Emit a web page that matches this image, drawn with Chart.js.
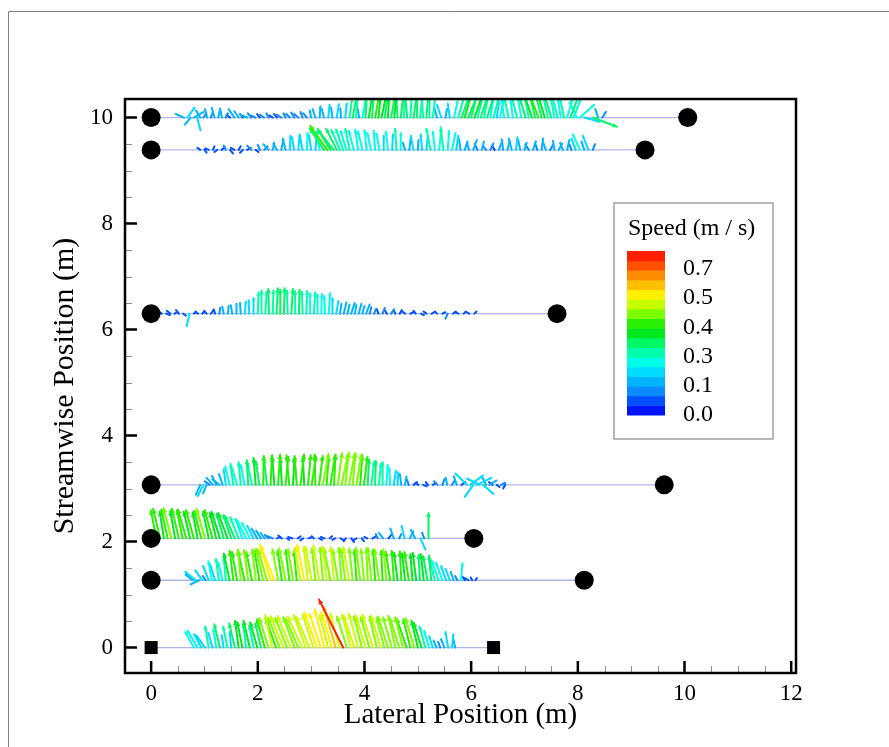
<!DOCTYPE html>
<html>
<head>
<title>Velocity vectors along transects</title>
<script src="https://cdn.jsdelivr.net/npm/chart.js"></script>
<style>
  body { margin: 0; background: #fff; }
</style>
</head>
<body>
<canvas id="chart" width="889" height="747"></canvas>
<script>
// transects: streamwise position and the lateral end of each line
const transectY   = [0, 1.27, 2.06, 3.07, 6.30, 9.39, 10.0];
const transectEnd = [6.42, 8.12, 6.05, 9.62, 7.61, 9.26, 10.06];
const xTicks = [0, 2, 4, 6, 8, 10, 12];
const yTicks = [0, 2, 4, 6, 8, 10];

// colour bar
const speedLevels = [0.0, 0.1, 0.3, 0.4, 0.5, 0.7];
const speedLabels = ['0.0', '0.1', '0.3', '0.4', '0.5', '0.7'];
const bandColors = ['#0014ff', '#0050ff', '#0a8cff', '#00b4ff', '#00dcff', '#00ffe6',
  '#00ffaa', '#00f864', '#00e81e', '#28f000', '#7cff00', '#c8ff00',
  '#fff000', '#ffc000', '#ff8c00', '#ff5000', '#ff1e00'];

// vectors per transect: [lateral position (m), u (m/s), v (m/s)]
const vec0 = [[0.80,-0.12,0.22],[0.87,-0.14,0.24],[0.94,-0.10,0.19],[1.01,-0.12,0.17],[1.08,-0.05,0.30],
  [1.15,-0.06,0.21],[1.22,-0.04,0.26],[1.29,-0.08,0.33],[1.36,-0.03,0.18],[1.43,-0.06,0.30],[1.50,-0.02,0.22],
  [1.57,-0.08,0.34],[1.64,-0.05,0.38],[1.71,-0.07,0.36],[1.78,-0.04,0.33],[1.85,-0.09,0.38],[1.92,-0.06,0.31],
  [1.99,-0.10,0.36],[2.06,-0.08,0.34],[2.13,-0.11,0.40],[2.20,-0.13,0.42],[2.27,-0.10,0.46],[2.34,-0.14,0.40],
  [2.41,-0.16,0.42],[2.48,-0.18,0.44],[2.55,-0.17,0.42],[2.62,-0.19,0.45],[2.69,-0.16,0.43],[2.76,-0.18,0.41],
  [2.83,-0.20,0.44],[2.90,-0.17,0.46],[2.97,-0.19,0.44],[3.04,-0.15,0.47],[3.11,-0.18,0.50],[3.18,-0.16,0.48],
  [3.25,-0.14,0.54],[3.32,-0.12,0.46],[3.39,-0.15,0.50],[3.46,-0.17,0.58],[3.53,-0.13,0.48],[3.60,-0.34,0.68],
  [3.67,-0.14,0.44],[3.74,-0.12,0.47],[3.81,-0.15,0.45],[3.88,-0.13,0.48],[3.95,-0.11,0.44],[4.02,-0.14,0.46],
  [4.09,-0.12,0.43],[4.16,-0.15,0.47],[4.23,-0.10,0.44],[4.30,-0.13,0.45],[4.37,-0.11,0.42],[4.44,-0.14,0.44],
  [4.51,-0.12,0.43],[4.58,-0.10,0.45],[4.65,-0.13,0.42],[4.72,-0.11,0.43],[4.79,-0.14,0.41],[4.86,-0.10,0.40],
  [4.93,-0.12,0.42],[5.00,-0.09,0.38],[5.07,-0.11,0.35],[5.14,-0.08,0.30],[5.21,-0.07,0.24],[5.28,-0.05,0.16],
  [5.35,-0.04,0.10],[5.42,-0.03,0.08],[5.50,-0.05,0.12],[5.57,-0.04,0.22],[5.64,0.02,0.19],[5.70,-0.03,0.14]];

const vec1 = [[0.78,-0.10,0.08],[0.84,-0.15,0.12],[0.90,-0.12,-0.06],[0.96,-0.10,0.14],[1.02,-0.04,0.06],
  [1.08,-0.08,0.20],[1.14,-0.05,0.27],[1.20,-0.07,0.22],[1.27,-0.04,0.30],[1.34,-0.06,0.25],[1.40,-0.03,0.33],
  [1.47,-0.08,0.38],[1.54,-0.05,0.42],[1.61,-0.07,0.40],[1.68,-0.04,0.44],[1.75,-0.09,0.41],[1.82,-0.06,0.43],
  [1.89,-0.08,0.40],[1.96,-0.05,0.44],[2.03,-0.07,0.42],[2.10,-0.10,0.45],[2.17,-0.12,0.43],[2.24,-0.14,0.48],
  [2.31,-0.20,0.50],[2.38,-0.08,0.44],[2.45,-0.06,0.42],[2.52,-0.09,0.45],[2.59,-0.05,0.43],[2.66,-0.07,0.44],
  [2.73,-0.04,0.41],[2.80,-0.08,0.46],[2.87,-0.10,0.50],[2.94,-0.06,0.47],[3.01,-0.09,0.48],[3.08,-0.05,0.45],
  [3.15,-0.08,0.49],[3.22,-0.04,0.46],[3.29,-0.06,0.48],[3.36,-0.09,0.45],[3.43,-0.05,0.47],[3.50,-0.07,0.43],
  [3.57,-0.04,0.46],[3.64,-0.06,0.44],[3.71,-0.08,0.47],[3.78,-0.05,0.45],[3.85,-0.03,0.43],[3.92,-0.06,0.46],
  [3.99,-0.04,0.44],[4.06,-0.02,0.45],[4.13,-0.05,0.46],[4.20,-0.03,0.43],[4.27,-0.06,0.44],[4.34,-0.02,0.42],
  [4.41,-0.04,0.44],[4.48,-0.06,0.40],[4.55,-0.03,0.42],[4.62,-0.05,0.39],[4.69,-0.02,0.41],[4.76,-0.04,0.38],
  [4.83,-0.06,0.40],[4.90,-0.03,0.37],[4.97,-0.05,0.39],[5.04,-0.02,0.36],[5.11,-0.04,0.37],[5.18,-0.06,0.34],
  [5.25,-0.03,0.35],[5.32,-0.08,0.30],[5.39,-0.10,0.28],[5.46,-0.09,0.25],[5.53,-0.07,0.20],[5.60,-0.06,0.16],
  [5.67,-0.04,0.12],[5.74,-0.03,0.06],[5.81,0.02,0.24],[5.88,-0.03,0.05],[5.95,-0.05,0.03],[6.02,-0.02,0.04],
  [6.08,0.02,0.03]];

const vec2 = [[0.10,-0.08,0.40],[0.17,-0.10,0.42],[0.24,-0.06,0.38],[0.31,-0.09,0.41],[0.38,-0.11,0.43],
  [0.45,-0.07,0.39],[0.52,-0.10,0.42],[0.59,-0.08,0.40],[0.66,-0.12,0.41],[0.73,-0.09,0.38],[0.80,-0.11,0.40],
  [0.87,-0.07,0.37],[0.94,-0.10,0.39],[1.01,-0.12,0.42],[1.08,-0.08,0.38],[1.15,-0.11,0.40],[1.22,-0.09,0.36],
  [1.29,-0.12,0.38],[1.36,-0.10,0.35],[1.43,-0.13,0.36],[1.50,-0.11,0.33],[1.57,-0.14,0.32],[1.64,-0.12,0.30],
  [1.71,-0.10,0.28],[1.78,-0.13,0.26],[1.85,-0.11,0.22],[1.92,-0.09,0.18],[1.99,-0.08,0.14],[2.06,-0.07,0.11],
  [2.13,-0.06,0.08],[2.20,-0.05,0.05],[2.28,-0.07,0.03],[2.36,0.04,0.02],[2.45,-0.05,0.04],[2.55,0.03,-0.02],
  [2.65,-0.06,0.02],[2.75,0.04,0.03],[2.85,-0.04,-0.03],[2.95,0.05,0.02],[3.05,-0.03,0.03],[3.15,0.04,-0.02],
  [3.25,-0.05,0.02],[3.35,0.03,0.03],[3.45,-0.04,-0.02],[3.55,0.05,-0.03],[3.65,-0.03,-0.04],[3.75,0.04,-0.05],
  [3.85,-0.05,-0.03],[3.95,0.03,-0.04],[4.05,-0.04,0.02],[4.15,0.05,0.03],[4.25,-0.03,0.06],[4.35,-0.06,0.08],
  [4.45,0.04,0.05],[4.55,-0.05,0.14],[4.65,0.03,0.06],[4.75,-0.04,0.18],[4.85,0.05,0.10],[4.95,-0.06,0.12],
  [5.05,0.07,-0.16],[5.12,-0.03,0.08],[5.20,0.00,0.36]];

const vec3 = [[0.92,-0.06,-0.14],[0.98,-0.08,-0.16],[1.04,-0.05,-0.12],[1.10,-0.07,0.05],[1.16,-0.09,0.10],
  [1.22,-0.06,0.13],[1.28,-0.10,0.08],[1.34,-0.05,0.15],[1.40,-0.03,0.22],[1.47,-0.06,0.26],[1.54,-0.04,0.30],
  [1.61,-0.07,0.24],[1.68,-0.03,0.32],[1.75,-0.05,0.28],[1.82,-0.02,0.35],[1.89,-0.06,0.30],[1.96,-0.03,0.38],
  [2.03,-0.05,0.33],[2.10,0.01,0.41],[2.17,-0.04,0.36],[2.24,0.02,0.42],[2.31,-0.03,0.39],[2.38,0.03,0.43],
  [2.45,-0.02,0.37],[2.52,0.04,0.40],[2.59,-0.04,0.42],[2.66,0.02,0.38],[2.73,-0.03,0.41],[2.80,0.05,0.43],
  [2.87,-0.02,0.39],[2.94,0.04,0.42],[3.01,0.06,0.40],[3.08,-0.01,0.43],[3.15,0.05,0.41],[3.22,0.08,0.44],
  [3.29,0.03,0.40],[3.36,0.07,0.42],[3.43,0.02,0.43],[3.50,0.06,0.45],[3.57,0.09,0.43],[3.64,0.05,0.46],
  [3.71,0.08,0.44],[3.78,0.04,0.45],[3.85,0.07,0.43],[3.92,0.03,0.42],[3.99,0.05,0.40],[4.06,0.02,0.36],
  [4.13,0.04,0.33],[4.20,0.01,0.34],[4.27,0.03,0.30],[4.34,0.00,0.32],[4.41,0.02,0.28],[4.48,-0.01,0.24],
  [4.55,0.03,0.20],[4.62,0.01,0.18],[4.69,-0.02,0.15],[4.76,0.02,0.12],[4.83,-0.03,0.08],[4.92,0.05,0.04],
  [5.01,-0.04,0.03],[5.10,0.05,-0.02],[5.19,-0.03,0.04],[5.28,0.04,0.02],[5.37,-0.05,0.05],[5.46,0.03,0.08],
  [5.55,-0.02,0.10],[5.64,0.04,0.06],[5.73,-0.04,0.12],[5.82,0.05,0.04],[5.92,-0.16,0.16],[5.98,0.18,0.13],
  [6.04,-0.12,-0.17],[6.10,0.21,0.10],[6.16,-0.18,0.09],[6.22,0.15,-0.13],[6.28,-0.06,0.12],[6.34,0.10,0.06],
  [6.40,-0.05,0.04],[6.48,0.04,-0.03],[6.56,0.06,0.03],[6.64,-0.03,-0.05]];

const vec4 = [[0.20,-0.04,0.03],[0.28,0.05,-0.02],[0.36,-0.05,0.04],[0.44,0.03,0.02],[0.52,-0.04,0.05],
  [0.60,0.04,-0.03],[0.72,-0.04,-0.18],[0.80,0.03,0.03],[0.88,-0.04,0.02],[0.96,0.03,0.04],[1.04,-0.03,0.03],
  [1.12,0.04,0.05],[1.20,-0.02,0.06],[1.28,0.01,0.08],[1.36,-0.02,0.10],[1.44,0.01,0.11],[1.52,-0.02,0.12],
  [1.60,0.00,0.14],[1.68,-0.01,0.15],[1.76,0.01,0.17],[1.84,-0.01,0.19],[1.92,0.00,0.22],[2.00,0.01,0.30],
  [2.07,0.00,0.33],[2.14,0.02,0.31],[2.21,-0.01,0.35],[2.28,0.01,0.33],[2.35,0.02,0.36],[2.42,0.00,0.34],
  [2.49,0.01,0.36],[2.56,-0.01,0.33],[2.63,0.02,0.35],[2.70,0.00,0.32],[2.77,0.01,0.34],[2.84,-0.01,0.31],
  [2.91,0.01,0.32],[2.98,0.00,0.29],[3.05,0.02,0.30],[3.12,0.00,0.27],[3.19,0.01,0.28],[3.26,-0.01,0.25],
  [3.33,0.02,0.29],[3.40,0.00,0.22],[3.47,0.03,0.18],[3.54,0.02,0.14],[3.61,0.04,0.16],[3.68,0.03,0.13],
  [3.75,0.05,0.15],[3.82,0.02,0.12],[3.89,0.04,0.14],[3.96,0.03,0.11],[4.03,0.05,0.13],[4.10,0.02,0.09],
  [4.18,0.03,0.07],[4.26,-0.02,0.06],[4.34,0.03,0.08],[4.42,-0.03,0.05],[4.50,0.04,0.06],[4.58,-0.02,0.04],
  [4.66,0.03,0.05],[4.76,-0.04,0.03],[4.86,0.04,0.02],[4.96,-0.03,0.04],[5.06,0.04,-0.02],[5.16,-0.04,0.03],
  [5.26,0.03,0.02],[5.36,-0.03,0.03],[5.46,0.04,0.02],[5.56,-0.03,-0.07],[5.66,0.04,0.03],[5.76,-0.04,0.02],
  [5.86,0.03,0.03],[5.96,-0.03,0.02],[6.06,0.03,0.03]];

const vec5 = [[0.92,-0.04,0.03],[1.00,0.03,-0.04],[1.08,-0.05,0.02],[1.16,0.02,0.05],[1.24,-0.04,-0.03],
  [1.32,0.05,0.04],[1.40,-0.03,0.06],[1.48,0.04,-0.05],[1.56,-0.05,0.03],[1.64,0.03,0.05],[1.72,-0.04,-0.04],
  [1.80,0.05,0.03],[1.88,-0.06,0.06],[1.96,0.04,-0.03],[2.04,-0.03,0.07],[2.12,0.05,0.05],[2.20,-0.07,0.08],
  [2.28,0.02,0.10],[2.36,-0.05,0.09],[2.44,0.03,0.14],[2.52,-0.04,0.16],[2.60,0.01,0.20],[2.68,-0.03,0.18],
  [2.76,0.02,0.22],[2.84,-0.04,0.20],[2.92,0.01,0.24],[3.00,-0.03,0.21],[3.08,0.02,0.23],[3.16,-0.05,0.26],
  [3.24,-0.20,0.30],[3.30,-0.24,0.34],[3.36,-0.18,0.30],[3.42,-0.22,0.28],[3.48,-0.15,0.30],[3.54,-0.12,0.28],
  [3.60,-0.10,0.29],[3.66,-0.08,0.27],[3.72,-0.06,0.30],[3.80,-0.07,0.27],[3.88,-0.04,0.29],[3.96,-0.06,0.26],
  [4.04,-0.03,0.28],[4.12,-0.05,0.24],[4.20,-0.02,0.27],[4.28,-0.04,0.23],[4.36,0.00,0.20],[4.44,-0.03,0.26],
  [4.52,0.01,0.22],[4.60,-0.02,0.30],[4.68,0.00,0.24],[4.76,-0.03,0.10],[4.84,0.02,0.16],[4.92,-0.04,0.20],
  [5.00,0.01,0.14],[5.08,-0.02,0.22],[5.16,0.02,0.18],[5.24,-0.06,0.30],[5.32,-0.03,0.26],[5.40,0.03,0.28],
  [5.48,-0.04,0.32],[5.56,0.02,0.27],[5.64,0.05,0.24],[5.72,0.03,0.20],[5.80,-0.02,0.15],[5.88,0.04,0.12],
  [5.96,-0.03,0.10],[6.04,0.05,0.14],[6.12,-0.04,0.08],[6.20,0.03,0.12],[6.28,-0.05,0.06],[6.36,0.04,0.09],
  [6.44,-0.03,0.05],[6.52,0.04,0.11],[6.60,-0.02,0.15],[6.68,0.03,0.12],[6.76,-0.04,0.16],[6.84,0.02,0.18],
  [6.92,-0.03,0.14],[7.00,0.03,0.10],[7.08,-0.05,0.08],[7.16,0.04,0.12],[7.24,-0.03,0.09],[7.32,0.02,0.16],
  [7.40,-0.04,0.11],[7.48,0.04,0.07],[7.56,-0.02,0.13],[7.64,0.05,0.09],[7.72,-0.04,0.10],[7.80,0.03,0.14],
  [7.88,-0.03,0.08],[7.96,-0.06,0.16],[8.04,-0.10,0.22],[8.12,-0.04,0.12],[8.20,-0.08,0.20],[8.28,0.03,0.08]];

const vec6 = [[0.62,-0.12,0.05],[0.68,0.10,0.14],[0.74,-0.08,-0.10],[0.80,0.14,0.08],[0.86,0.05,-0.18],
  [0.92,-0.06,0.10],[0.98,0.04,0.06],[1.05,-0.03,0.12],[1.12,0.03,0.08],[1.19,-0.04,0.14],[1.26,0.02,0.10],
  [1.33,-0.03,0.13],[1.40,0.03,0.06],[1.48,-0.05,0.04],[1.56,-0.08,0.12],[1.64,-0.06,0.09],[1.72,-0.04,0.05],
  [1.80,-0.10,0.04],[1.88,-0.05,0.06],[1.96,-0.07,0.03],[2.04,-0.04,0.05],[2.12,-0.06,0.04],[2.20,-0.03,0.06],
  [2.28,-0.05,0.03],[2.36,-0.04,0.05],[2.44,-0.06,0.04],[2.52,-0.03,0.06],[2.60,-0.05,0.05],[2.68,-0.04,0.07],
  [2.76,-0.06,0.05],[2.84,-0.03,0.08],[2.92,-0.05,0.06],[3.00,-0.02,0.10],[3.08,-0.04,0.12],[3.16,0.01,0.16],
  [3.24,-0.03,0.12],[3.32,0.02,0.18],[3.40,-0.02,0.14],[3.48,0.03,0.19],[3.56,-0.01,0.13],[3.64,0.02,0.20],
  [3.72,0.04,0.30],[3.78,0.06,0.34],[3.84,0.03,0.32],[3.90,-0.02,0.12],[3.96,0.05,0.26],[4.02,0.02,0.35],
  [4.08,0.06,0.38],[4.14,0.03,0.36],[4.20,0.07,0.40],[4.26,0.04,0.37],[4.32,0.08,0.39],[4.38,0.05,0.36],
  [4.44,0.02,0.38],[4.50,0.06,0.35],[4.56,0.03,0.37],[4.62,-0.02,0.34],[4.68,0.04,0.36],[4.74,0.01,0.33],
  [4.80,-0.03,0.35],[4.86,0.02,0.32],[4.92,0.05,0.36],[4.98,0.01,0.34],[5.04,0.04,0.33],[5.10,-0.02,0.31],
  [5.16,0.03,0.35],[5.22,0.00,0.30],[5.28,0.04,0.33],[5.36,-0.04,0.14],[5.44,-0.06,0.18],[5.52,0.02,0.12],
  [5.60,-0.03,0.20],[5.68,0.05,0.24],[5.76,0.08,0.30],[5.82,0.12,0.34],[5.88,0.10,0.36],[5.94,0.14,0.33],
  [6.00,0.09,0.35],[6.06,0.13,0.37],[6.12,0.08,0.32],[6.18,0.11,0.34],[6.24,0.06,0.30],[6.30,0.10,0.33],
  [6.36,0.04,0.26],[6.42,0.08,0.31],[6.48,0.03,0.22],[6.54,0.06,0.28],[6.62,-0.04,0.26],[6.70,-0.06,0.30],
  [6.78,-0.03,0.24],[6.86,-0.08,0.32],[6.94,-0.05,0.28],[7.02,-0.10,0.34],[7.08,-0.06,0.30],[7.14,-0.12,0.36],
  [7.20,-0.08,0.33],[7.26,-0.14,0.38],[7.32,-0.09,0.35],[7.38,-0.11,0.37],[7.44,-0.07,0.31],[7.50,-0.10,0.34],
  [7.56,-0.05,0.28],[7.62,-0.08,0.32],[7.68,-0.04,0.26],[7.74,-0.06,0.30],[7.80,0.08,0.28],[7.86,0.12,0.32],
  [7.92,0.10,0.26],[7.98,-0.10,0.22],[8.04,0.20,0.18],[8.12,0.22,-0.06],[8.28,0.34,-0.13],[8.38,-0.04,0.12],
  [8.46,0.05,0.08]];

const vectors = [vec0, vec1, vec2, vec3, vec4, vec5, vec6];
const vecScale = 1.33; // metres of plot per m/s

function speedColor(s) {
  let pos;
  const last = speedLevels.length - 1;
  if (s >= speedLevels[last]) {
    pos = last + (s - speedLevels[last]) / 0.1;
  } else {
    let i = 0;
    while (s >= speedLevels[i + 1]) i++;
    pos = i + (s - speedLevels[i]) / (speedLevels[i + 1] - speedLevels[i]);
  }
  const band = Math.max(0, Math.min(bandColors.length - 1, Math.floor(pos * 3)));
  return bandColors[band];
}

const serif = "'Liberation Serif', 'Times New Roman', serif";

// markers at the ends of each transect
const circlePts = [], squarePts = [];
transectY.forEach((y, i) => {
  const target = y === 0 ? squarePts : circlePts;
  target.push({ x: 0, y: y }, { x: transectEnd[i], y: y });
});

const lineSets = transectY.map((y, i) => ({
  type: 'line',
  data: [{ x: 0, y: y }, { x: transectEnd[i], y: y }],
  borderColor: '#b4b4e4',
  borderWidth: 1.3,
  pointRadius: 0
}));

const vectorPlugin = {
  id: 'vectors',
  afterDatasetDraw(chart, args) {
    if (args.index !== 2) return;
    const { ctx, chartArea: a, scales: { x, y } } = chart;
    ctx.save();
    ctx.beginPath();
    ctx.rect(a.left, a.top, a.right - a.left, a.bottom - a.top);
    ctx.clip();
    ctx.lineWidth = 2;
    ctx.lineCap = 'round';
    vectors.forEach((rows, t) => {
      const y0 = transectY[t];
      const sorted = rows.slice().sort((p, q) => Math.hypot(p[1], p[2]) - Math.hypot(q[1], q[2]));
      sorted.forEach(([x0, u, v]) => {
        const bx = x.getPixelForValue(x0), by = y.getPixelForValue(y0);
        const tx = x.getPixelForValue(x0 + u * vecScale), ty = y.getPixelForValue(y0 + v * vecScale);
        const col = speedColor(Math.hypot(u, v));
        ctx.strokeStyle = col;
        ctx.fillStyle = col;
        ctx.beginPath();
        ctx.moveTo(bx, by);
        ctx.lineTo(tx, ty);
        ctx.stroke();
        const len = Math.hypot(tx - bx, ty - by);
        if (len > 6) {
          const h = Math.min(4.5, len * 0.16), w = h * 0.6, ang = Math.atan2(ty - by, tx - bx);
          ctx.beginPath();
          ctx.moveTo(tx, ty);
          ctx.lineTo(tx - h * Math.cos(ang) + w * Math.sin(ang), ty - h * Math.sin(ang) - w * Math.cos(ang));
          ctx.lineTo(tx - h * Math.cos(ang) - w * Math.sin(ang), ty - h * Math.sin(ang) + w * Math.cos(ang));
          ctx.closePath();
          ctx.fill();
        }
      });
    });
    ctx.restore();
  }
};

const framePlugin = {
  id: 'frame',
  beforeDraw(chart) {
    const ctx = chart.ctx;
    ctx.save();
    ctx.strokeStyle = '#808080';
    ctx.lineWidth = 1;
    ctx.beginPath();
    ctx.moveTo(8.5, 747);
    ctx.lineTo(8.5, 11.5);
    ctx.lineTo(889, 11.5);
    ctx.stroke();
    ctx.restore();
  },
  afterDraw(chart) {
    const { ctx, chartArea: a, scales: { x, y } } = chart;
    ctx.save();
    // minor ticks
    ctx.strokeStyle = '#8c8c8c';
    ctx.lineWidth = 1;
    ctx.beginPath();
    xTicks.forEach(v => {
      [0.5, 1, 1.5].forEach(d => {
        if (v + d > x.max) return;
        const px = Math.round(x.getPixelForValue(v + d)) + 0.5;
        ctx.moveTo(px, a.bottom);
        ctx.lineTo(px, a.bottom - 7);
      });
    });
    yTicks.forEach(v => {
      [0.5, 1, 1.5].forEach(d => {
        if (v + d > y.max) return;
        const py = Math.round(y.getPixelForValue(v + d)) + 0.5;
        ctx.moveTo(a.left, py);
        ctx.lineTo(a.left + 7, py);
      });
    });
    ctx.stroke();
    // major ticks
    ctx.strokeStyle = '#000';
    ctx.lineWidth = 2.5;
    ctx.beginPath();
    xTicks.forEach(v => {
      const px = x.getPixelForValue(v);
      ctx.moveTo(px, a.bottom);
      ctx.lineTo(px, a.bottom - 12);
    });
    yTicks.forEach(v => {
      const py = y.getPixelForValue(v);
      ctx.moveTo(a.left, py);
      ctx.lineTo(a.left + 12, py);
    });
    ctx.stroke();
    // frame
    ctx.lineWidth = 2.5;
    ctx.strokeRect(a.left, a.top, a.right - a.left, a.bottom - a.top);

    // colour bar legend
    const boxL = 614, boxT = 203, boxW = 159, boxH = 236;
    ctx.fillStyle = '#fff';
    ctx.fillRect(boxL, boxT, boxW, boxH);
    ctx.strokeStyle = '#a0a0a0';
    ctx.lineWidth = 1.5;
    ctx.strokeRect(boxL, boxT, boxW, boxH);
    ctx.fillStyle = '#000';
    ctx.font = '24px ' + serif;
    ctx.textBaseline = 'middle';
    ctx.textAlign = 'left';
    ctx.fillText('Speed (m / s)', 628, 229);
    const barL = 627, barW = 38, barBottom = 415, bandH = 9.65;
    bandColors.forEach((c, i) => {
      ctx.fillStyle = c;
      ctx.fillRect(barL, barBottom - (i + 1) * bandH, barW, bandH + 0.5);
    });
    ctx.fillStyle = '#000';
    speedLabels.forEach((t, i) => {
      ctx.fillText(t, 683, barBottom - i * 3 * 9.75);
    });
    ctx.restore();
  }
};

new Chart(document.getElementById('chart'), {
  type: 'scatter',
  data: {
    datasets: [
      { data: circlePts, pointStyle: 'circle', pointRadius: 9.5, backgroundColor: '#000', borderColor: '#000', borderWidth: 0 },
      { data: squarePts, pointStyle: 'rect', pointRadius: 9.2, backgroundColor: '#000', borderColor: '#000', borderWidth: 0 },
      ...lineSets
    ]
  },
  options: {
    responsive: false,
    animation: false,
    events: [],
    layout: { padding: { left: 0, right: 93, top: 99, bottom: 0 } },
    plugins: { legend: { display: false }, tooltip: { enabled: false } },
    scales: {
      x: {
        type: 'linear',
        min: -0.49,
        max: 12.09,
        afterBuildTicks: s => { s.ticks = xTicks.map(v => ({ value: v })); },
        afterFit: s => { s.height = 74; },
        grid: { display: false, drawTicks: false },
        border: { display: false },
        ticks: { color: '#000', font: { family: serif, size: 23 }, padding: 7, maxRotation: 0 },
        title: { display: true, text: 'Lateral Position (m)', color: '#000', font: { family: serif, size: 29 }, padding: { top: 0, bottom: 14 } }
      },
      y: {
        type: 'linear',
        min: -0.48,
        max: 10.35,
        afterBuildTicks: s => { s.ticks = yTicks.map(v => ({ value: v })); },
        afterFit: s => { s.width = 125; },
        grid: { display: false, drawTicks: false },
        border: { display: false },
        ticks: { color: '#000', font: { family: serif, size: 23 }, padding: 12 },
        title: { display: true, text: 'Streamwise Position (m)', color: '#000', font: { family: serif, size: 30 }, padding: { top: 47, bottom: 0 } }
      }
    }
  },
  plugins: [vectorPlugin, framePlugin]
});
</script>
</body>
</html>
